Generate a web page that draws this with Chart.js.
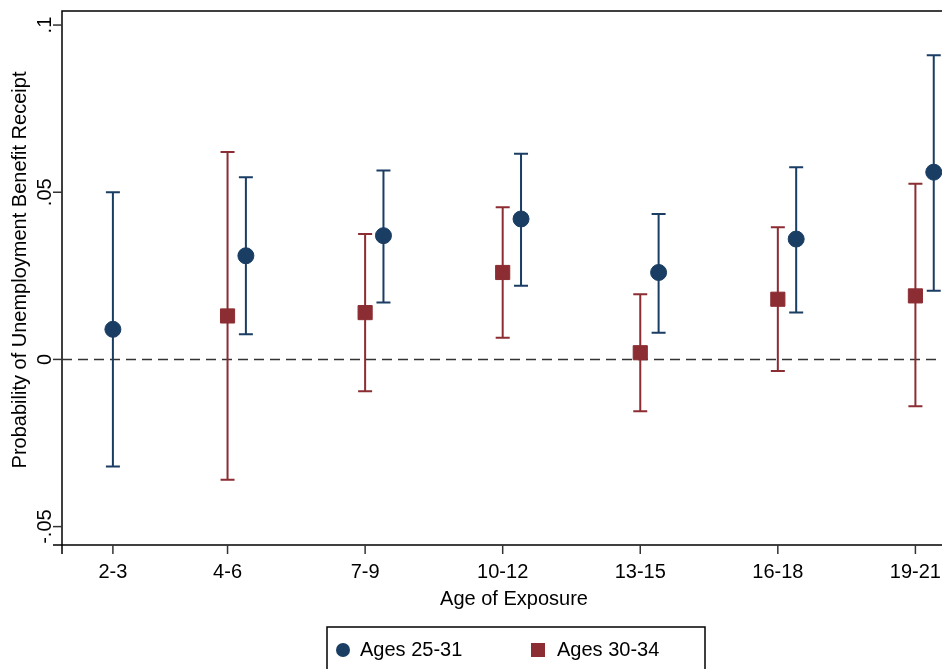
<!DOCTYPE html>
<html><head><meta charset="utf-8">
<script src="https://cdn.jsdelivr.net/npm/chart.js@4"></script>
<style>html,body{margin:0;padding:0;background:#fff;overflow:hidden}#w{width:942px;height:669px}</style>
</head><body><div id="w"><canvas id="c"></canvas></div>
<script>
const categories=["2-3","4-6","7-9","10-12","13-15","16-18","19-21"];
const catPos=[2.5,5,8,11,14,17,20];
const blueX=[2.5,5.4,8.4,11.4,14.4,17.4,20.4];
const blueVal=[0.009,0.031,0.037,0.042,0.026,0.036,0.056];
const blueLo=[-0.032,0.0075,0.017,0.022,0.008,0.014,0.0205];
const blueHi=[0.050,0.0545,0.0565,0.0615,0.0435,0.0575,0.091];
const redX=[5,8,11,14,17,20];
const redVal=[0.013,0.014,0.026,0.002,0.018,0.019];
const redLo=[-0.036,-0.0095,0.0065,-0.0155,-0.0035,-0.014];
const redHi=[0.062,0.0375,0.0455,0.0195,0.0395,0.0525];
const yTicks=[-0.05,0,0.05,0.1];
const yTickLabels=["-.05","0",".05",".1"];
const BLUE="#1a3d63",RED="#8c2d33";
const F="'Liberation Sans', Arial, sans-serif";

const extra={id:'extra',
 beforeDatasetsDraw(ch){const c=ch.ctx,x=ch.scales.x,y=ch.scales.y,a=ch.chartArea;
  c.save();c.strokeStyle="#000";c.lineWidth=1.5;
  c.beginPath();c.moveTo(a.left,a.bottom+9);c.lineTo(a.left,a.top);c.lineTo(a.right+20,a.top);c.stroke();
  c.beginPath();c.moveTo(a.left-9,a.bottom);c.lineTo(a.right+20,a.bottom);c.stroke();
  c.setLineDash([10,6]);c.strokeStyle="#333";c.beginPath();c.moveTo(a.left,y.getPixelForValue(0));c.lineTo(a.right+20,y.getPixelForValue(0));c.stroke();c.setLineDash([]);
  c.fillStyle="#000";c.font="20px "+F;c.textAlign="center";c.textBaseline="middle";
  yTicks.forEach((v,i)=>{const py=y.getPixelForValue(v);c.beginPath();c.moveTo(a.left-9,py);c.lineTo(a.left,py);c.stroke();
   c.save();c.translate(45,py);c.rotate(-Math.PI/2);c.fillText(yTickLabels[i],0,0);c.restore();});
  c.save();c.translate(20,270);c.rotate(-Math.PI/2);c.fillText("Probability of Unemployment Benefit Receipt",0,0);c.restore();
  catPos.forEach((v,i)=>{const px=x.getPixelForValue(v);c.beginPath();c.moveTo(px,a.bottom);c.lineTo(px,a.bottom+9);c.stroke();c.fillText(categories[i],px,572);});
  c.fillText("Age of Exposure",514,599);
  c.lineWidth=2;
  const eb=(xs,lo,hi,col)=>{c.strokeStyle=col;xs.forEach((v,i)=>{const px=x.getPixelForValue(v),p1=y.getPixelForValue(lo[i]),p2=y.getPixelForValue(hi[i]);
   c.beginPath();c.moveTo(px,p1);c.lineTo(px,p2);c.moveTo(px-7,p1);c.lineTo(px+7,p1);c.moveTo(px-7,p2);c.lineTo(px+7,p2);c.stroke();});};
  eb(blueX,blueLo,blueHi,BLUE);eb(redX,redLo,redHi,RED);
  c.lineWidth=1.5;c.strokeStyle="#000";c.strokeRect(327,627,378,44);
  c.fillStyle=BLUE;c.beginPath();c.arc(343,650,7,0,2*Math.PI);c.fill();
  c.fillStyle=RED;c.fillRect(531,643,14,14);
  c.fillStyle="#000";c.textAlign="left";c.fillText("Ages 25-31",360,650);c.fillText("Ages 30-34",557,650);
  c.restore();}};

new Chart(document.getElementById('c'),{
 type:'scatter',
 data:{datasets:[
  {label:'Ages 25-31',data:blueX.map((v,i)=>({x:v,y:blueVal[i]})),pointStyle:'circle',pointRadius:8,backgroundColor:BLUE,borderColor:BLUE},
  {label:'Ages 30-34',data:redX.map((v,i)=>({x:v,y:redVal[i]})),pointStyle:'rect',pointRadius:10,backgroundColor:RED,borderColor:RED}]},
 options:{responsive:true,maintainAspectRatio:false,animation:false,clip:false,
  layout:{padding:{top:10,right:-10,left:0,bottom:0}},
  plugins:{legend:{display:false},tooltip:{enabled:false}},
  scales:{
   x:{type:'linear',min:1.39,max:20.34,grid:{display:false},border:{display:false},ticks:{display:false},afterFit(s){s.height=124;}},
   y:{type:'linear',min:-0.0555,max:0.1042,grid:{display:false},border:{display:false},ticks:{display:false},afterFit(s){s.width=62;}}}},
 plugins:[extra]});
</script></body></html>
